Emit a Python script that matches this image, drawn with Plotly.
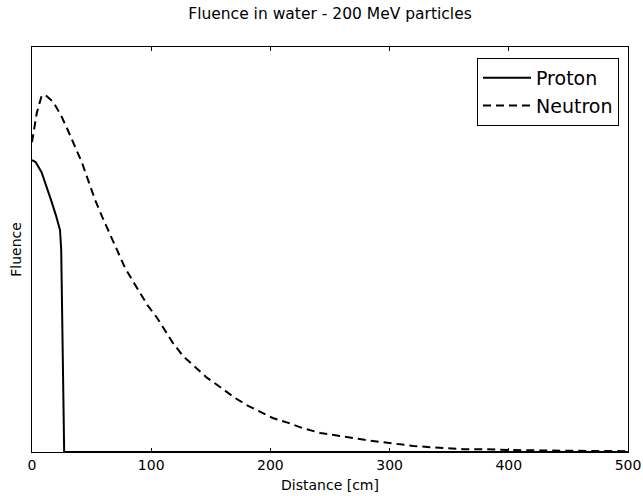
import plotly.graph_objects as go

proton_x = [0, 3, 8, 12, 16, 20, 23.5, 24.5, 25.5, 26.3, 27, 100, 200, 300, 400, 500]
proton_y = [0.721, 0.716, 0.691, 0.659, 0.622, 0.585, 0.548, 0.50, 0.30, 0.03, 0.0, 0.0, 0.0, 0.0, 0.0, 0.0]

neutron_x = [0, 4, 8, 11, 18, 25, 30, 36, 42, 47, 53, 59, 65, 71, 78, 84, 91, 97, 105, 112,
             118, 127, 137, 147, 158, 169, 180, 191, 202, 215, 227, 242, 256, 267, 279, 292,
             306, 320, 334, 348, 362, 376, 401, 450, 500]
neutron_y = [0.765, 0.837, 0.879, 0.882, 0.864, 0.827, 0.795, 0.753, 0.714, 0.672, 0.622, 0.580,
             0.541, 0.499, 0.455, 0.425, 0.392, 0.362, 0.331, 0.298, 0.270, 0.236, 0.210, 0.183,
             0.160, 0.136, 0.116, 0.099, 0.084, 0.072, 0.059, 0.047, 0.040, 0.035, 0.030, 0.025,
             0.020, 0.015, 0.012, 0.010, 0.007, 0.007, 0.005, 0.003, 0.002]

x_ticks = [0, 100, 200, 300, 400, 500]

font = "DejaVu Sans"

fig = go.Figure()
fig.add_trace(go.Scatter(x=proton_x, y=proton_y, mode="lines", name="Proton",
                         line=dict(color="black", width=2)))
fig.add_trace(go.Scatter(x=neutron_x, y=neutron_y, mode="lines", name="Neutron",
                         line=dict(color="black", width=2, dash="8px,5px")))

fig.update_layout(
    width=643, height=496,
    margin=dict(l=32, r=15, t=47, b=44, autoexpand=False),
    paper_bgcolor="white", plot_bgcolor="white",
    font=dict(family=font, size=14, color="black"),
    title=dict(text="Fluence in water - 200 MeV particles", x=(32 + 628) / 2 / 643,
               xanchor="center", y=1 - 14 / 496, yanchor="middle",
               font=dict(family=font, size=15.5, color="black")),
    legend=dict(x=(619 - 32) / 596, y=(452 - 58) / 405, xanchor="right", yanchor="top",
                bordercolor="black", borderwidth=1, bgcolor="white", itemwidth=48,
                font=dict(family=font, size=19, color="black")),
    showlegend=True,
)
fig.update_xaxes(range=[0, 500], tickvals=x_ticks, ticktext=[str(v) for v in x_ticks],
                 ticks="inside", ticklen=4, tickcolor="black", mirror="ticks",
                 showline=True, linecolor="black", linewidth=1, showgrid=False,
                 zeroline=False, automargin=False,
                 title=dict(text="Distance [cm]", standoff=8,
                            font=dict(family=font, size=14)),
                 tickfont=dict(family=font, size=14))
fig.update_yaxes(range=[0, 1], showticklabels=False, ticks="", mirror=True,
                 showline=True, linecolor="black", linewidth=1, showgrid=False,
                 zeroline=False, automargin=False,
                 title=dict(text="Fluence", standoff=6,
                            font=dict(family=font, size=14)))

fig.write_html("out.html")
